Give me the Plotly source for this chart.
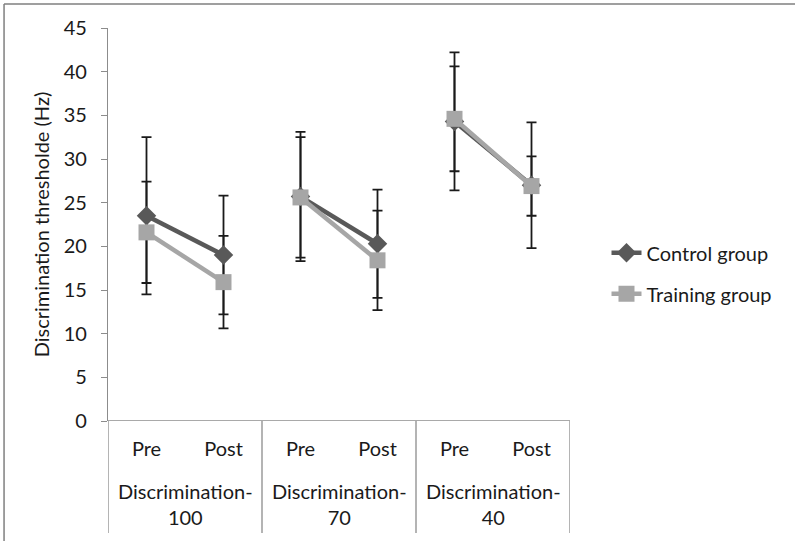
import plotly.graph_objects as go

groups = ["Discrimination-<br>100", "Discrimination-<br>70", "Discrimination-<br>40"]
phases = ["Pre", "Post", "Pre", "Post", "Pre", "Post"]

control_mean = [23.5, 19.0, 25.7, 20.3, 34.3, 27.0]
control_err = [9.0, 6.8, 7.4, 6.2, 7.9, 7.2]
training_mean = [21.6, 15.9, 25.6, 18.4, 34.6, 26.9]
training_err = [5.8, 5.3, 6.9, 5.7, 6.0, 3.4]

xpos = list(range(len(phases)))
FONT = "Lato, Carlito, Calibri, sans-serif"
TXT = "#1a1a1a"
FS = 20

fig = go.Figure()

# error bars (drawn beneath markers)
for mean, err in [(control_mean, control_err), (training_mean, training_err)]:
    fig.add_trace(go.Scatter(
        x=xpos, y=mean, mode="markers", marker=dict(opacity=0, size=1),
        error_y=dict(type="data", array=err, visible=True, color="#1a1a1a",
                     thickness=1.8, width=5),
        showlegend=False, hoverinfo="skip"))

for i in (0, 2, 4):
    fig.add_trace(go.Scatter(
        x=xpos[i:i+2], y=control_mean[i:i+2], mode="lines+markers",
        name="Control group",
        line=dict(color="#595959", width=4.5),
        marker=dict(symbol="diamond", size=15, color="#595959"),
        showlegend=(i == 0), legendgroup="c"))

for i in (0, 2, 4):
    fig.add_trace(go.Scatter(
        x=xpos[i:i+2], y=training_mean[i:i+2], mode="lines+markers",
        name="Training group",
        line=dict(color="#a6a6a6", width=4.5),
        marker=dict(symbol="square", size=16, color="#a6a6a6"),
        showlegend=(i == 0), legendgroup="t"))

shapes = []
# x axis line at 0
shapes.append(dict(type="line", xref="x", yref="y", x0=-0.5, x1=5.5, y0=0, y1=0,
                   line=dict(color="#8c8c8c", width=1.3)))
# group dividers
for xd in [-0.5, 1.5, 3.5, 5.5]:
    shapes.append(dict(type="line", xref="x", yref="paper", x0=xd, x1=xd,
                       y0=0, y1=-0.285, line=dict(color="#8c8c8c", width=1.3)))
# outer frame (top and left)
shapes.append(dict(type="line", xref="paper", yref="paper", x0=-0.225, x1=1.52,
                   y0=1.061, y1=1.061, line=dict(color="#7f7f7f", width=1.5)))
shapes.append(dict(type="line", xref="paper", yref="paper", x0=-0.225, x1=-0.225,
                   y0=1.061, y1=-0.4, line=dict(color="#7f7f7f", width=1.5)))

annotations = []
for g, c in zip(groups, [0.5, 2.5, 4.5]):
    annotations.append(dict(x=c, y=-0.142, xref="x", yref="paper", text=g,
                            showarrow=False, yanchor="top",
                            font=dict(family=FONT, size=FS, color=TXT)))

fig.update_layout(
    width=795, height=541,
    margin=dict(l=108, r=225, t=28, b=120),
    paper_bgcolor="white", plot_bgcolor="white",
    font=dict(family=FONT, size=FS, color=TXT),
    shapes=shapes, annotations=annotations,
    legend=dict(x=1.079, y=0.376, xanchor="left", yanchor="middle",
                font=dict(family=FONT, size=FS, color=TXT),
                tracegroupgap=12, traceorder="grouped", bgcolor="rgba(0,0,0,0)"),
    xaxis=dict(range=[-0.5, 5.5], tickvals=xpos, ticktext=phases, showgrid=False,
               zeroline=False, showline=False, ticks="", ticklabelstandoff=14,
               automargin=False,
               tickfont=dict(family=FONT, size=FS, color=TXT)),
    yaxis=dict(range=[0, 45], dtick=5, showgrid=False, zeroline=False,
               showline=True, linecolor="#8c8c8c", linewidth=1.3,
               ticks="outside", ticklen=6, tickcolor="#8c8c8c", tickwidth=1.3,
               ticklabelstandoff=10, automargin=False,
               tickfont=dict(family=FONT, size=FS, color=TXT),
               title=dict(text="Discrimination thresholde (Hz)", standoff=8,
                          font=dict(family=FONT, size=FS, color=TXT))),
)

fig.write_html("out.html", config={"displayModeBar": False},
               post_script="document.body.style.margin='0px';")
